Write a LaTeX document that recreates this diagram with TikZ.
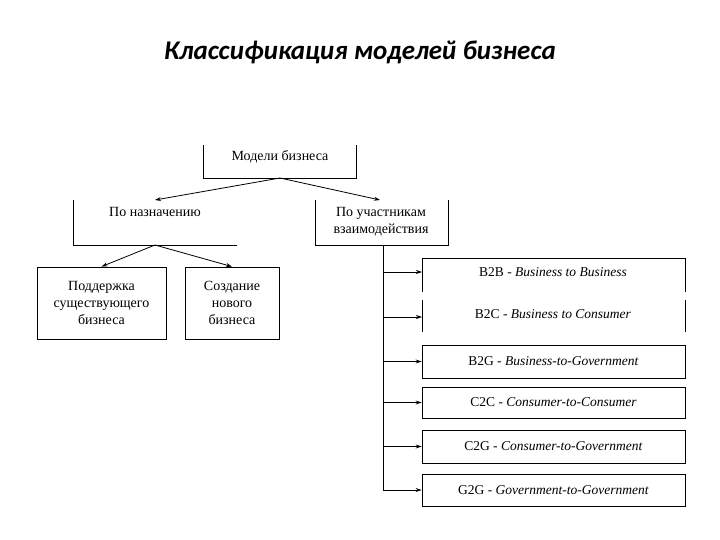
\documentclass[tikz,border=0pt]{standalone}
\usepackage{fontspec}
\setmainfont{Liberation Serif}
\newfontfamily\titlefont{Carlito}
\usetikzlibrary{arrows.meta}
\begin{document}
\begin{tikzpicture}[x=1pt,y=-1pt,
  ln/.style={draw=black,line width=0.8pt},
  arr/.style={ln,-{Stealth[length=6pt,width=4pt]}},
  lbl/.style={font=\fontsize{14}{17}\selectfont,align=center,inner sep=0pt},
  rl/.style={font=\fontsize{13.5}{16}\selectfont,inner sep=0pt}]
\useasboundingbox (0,0) rectangle (720,540);
\node[font=\titlefont\fontsize{27}{32}\selectfont\bfseries\itshape] (title) at (360,52) {Классификация моделей бизнеса};
% top box
\draw[ln] (203,145) |- (356,178) -- (356,145);
\node[lbl] (top) at (280,157) {Модели бизнеса};
\coordinate (topb) at (280,178);
% по назначению
\draw[ln] (73,200) |- (237,245);
\node[lbl] (nazn) at (155,212) {По назначению};
\coordinate (naznt) at (155,200);
\coordinate (naznb) at (155,245);
% по участникам
\draw[ln] (315,200) |- (448,245) -- (448,200);
\node[lbl] (uch) at (381,222) {По участникам\\взаимодействия};
\coordinate (ucht) at (380,200);
\draw[arr] (topb) -- (naznt);
\draw[arr] (topb) -- (ucht);
% children
\node[ln,lbl,minimum width=129pt,minimum height=72pt] (sup) at (101.5,303) {Поддержка\\существующего\\бизнеса};
\node[ln,lbl,minimum width=94pt,minimum height=72pt] (cre) at (232,303) {Создание\\нового\\бизнеса};
\draw[arr] (naznb) -- (sup.north);
\draw[arr] (naznb) -- (cre.north);
% right column
\coordinate (vt) at (383,245);
\coordinate (vb) at (383,490);
\draw[ln] (vt) -- (vb);
\draw[ln] (422,292) |- (685,258) -- (685,292);
\draw[ln] (422,300) -- (422,332) (685,300) -- (685,332);
\node[rl] (b2b) at (553,272) {B2B - \textit{Business to Business}};
\node[rl] (b2c) at (553,314) {B2C - \textit{Business to Consumer}};
\node[ln,rl,minimum width=263pt,minimum height=33pt] (b2g) at (553.5,361.5) {B2G - \textit{Business-to-Government}};
\node[ln,rl,minimum width=263pt,minimum height=31pt] (c2c) at (553.5,402.5) {C2C - \textit{Consumer-to-Consumer}};
\node[ln,rl,minimum width=263pt,minimum height=33pt] (c2g) at (553.5,446.5) {C2G - \textit{Consumer-to-Government}};
\node[ln,rl,minimum width=263pt,minimum height=32pt] (g2g) at (553.5,490) {G2G - \textit{Government-to-Government}};
\coordinate (e1) at (422,272);
\coordinate (e2) at (422,317);
\foreach \y/\t in {272/e1,317/e2} \draw[arr] (383,\y) -- (\t);
\foreach \n in {b2g,c2c,c2g,g2g} \draw[arr] (vt |- \n.west) -- (\n.west);
\end{tikzpicture}
\end{document}
